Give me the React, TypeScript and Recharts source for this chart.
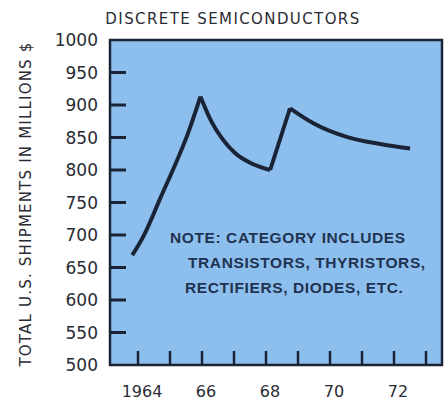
import { Line, LineChart, ReferenceArea, XAxis, YAxis } from 'recharts';

// segments (year, millions $)
const rise1Years = [1963.82, 1964.22, 1964.63, 1965.0, 1965.52, 1965.95];
const rise1Values = [669, 703, 749, 790, 851, 913];
const fall1Years = [1965.95, 1966.3, 1966.62, 1967.03, 1967.55, 1968.13];
const fall1Values = [913, 874, 849, 826, 810, 800];
const rise2Years = [1968.13, 1968.75];
const rise2Values = [800, 895];
const fall2Years = [1968.75, 1969.48, 1970.52, 1971.56, 1972.5];
const fall2Values = [895, 872, 851, 840, 833];

const yearTicks = [1964, 1965, 1966, 1967, 1968, 1969, 1970, 1971, 1972, 1973];
const yearLabels: Record<number, string> = { 1964: '1964', 1966: '66', 1968: '68', 1970: '70', 1972: '72' };
const valueTicks = [500, 550, 600, 650, 700, 750, 800, 850, 900, 950, 1000];

const title = 'DISCRETE SEMICONDUCTORS';
const yTitle = 'TOTAL U.S. SHIPMENTS IN MILLIONS $';
const noteLines = ['NOTE:  CATEGORY INCLUDES', 'TRANSISTORS, THYRISTORS,', 'RECTIFIERS, DIODES, ETC.'];

const FONT = '"DejaVu Sans", sans-serif';
const NOTE_FONT = '"Liberation Sans", Arial, sans-serif';
const INK = '#2a2b33';
const LINE = '#1b2436';

const toRows = (xs: number[], ys: number[]) => xs.map((year, i) => ({ year, value: ys[i] }));

function YTick({ x, y, payload }: any) {
  const v = payload.value;
  return (
    <g>
      <text x={x - 12} y={y} dy={6} textAnchor='end' fontSize={17} fontFamily={FONT} fill={INK}>
        {v}
      </text>
      {v > 500 && v < 1000 && <line x1={x} x2={x + 16} y1={y} y2={y} stroke={LINE} strokeWidth={3} />}
    </g>
  );
}

function XTick({ x, y, payload }: any) {
  const v = payload.value;
  return (
    <g>
      <line x1={x} x2={x} y1={y} y2={y - 14} stroke={LINE} strokeWidth={2.5} />
      {yearLabels[v] && (
        <text x={x + 4} y={y + 32} textAnchor='middle' fontSize={16} fontFamily={FONT} fill={INK}>
          {yearLabels[v]}
        </text>
      )}
    </g>
  );
}

export default function App() {
  return (
    <div style={{ position: 'absolute', left: 0, top: 0, width: 448, height: 400 }}>
      <LineChart width={448} height={400} margin={{ top: 40, right: 6, bottom: 0, left: 0 }}>
        <ReferenceArea
          x1={1963.125}
          x2={1973.5}
          y1={500}
          y2={1000}
          fill='#8DBFEE'
          fillOpacity={1}
          stroke={LINE}
          strokeWidth={2.5}
        />
        <XAxis
          type='number'
          dataKey='year'
          domain={[1963.125, 1973.5]}
          allowDataOverflow
          ticks={yearTicks}
          interval={0}
          height={35}
          axisLine={false}
          tickLine={false}
          tickSize={0}
          tickMargin={0}
          tick={<XTick />}
        />
        <YAxis
          type='number'
          domain={[500, 1000]}
          allowDataOverflow
          ticks={valueTicks}
          interval={0}
          width={110}
          axisLine={false}
          tickLine={false}
          tickSize={0}
          tickMargin={0}
          tick={<YTick />}
        />
        <Line data={toRows(rise1Years, rise1Values)} dataKey='value' type='natural' stroke={LINE} strokeWidth={4} dot={false} isAnimationActive={false} />
        <Line data={toRows(fall1Years, fall1Values)} dataKey='value' type='monotone' stroke={LINE} strokeWidth={4} dot={false} isAnimationActive={false} />
        <Line data={toRows(rise2Years, rise2Values)} dataKey='value' type='linear' stroke={LINE} strokeWidth={4} dot={false} isAnimationActive={false} />
        <Line data={toRows(fall2Years, fall2Values)} dataKey='value' type='monotone' stroke={LINE} strokeWidth={4} dot={false} isAnimationActive={false} />
      </LineChart>
      <svg width={448} height={400} style={{ position: 'absolute', left: 0, top: 0, pointerEvents: 'none' }}>
        <text x={233} y={24} textAnchor='middle' fontSize={15} letterSpacing={1.4} fontFamily={FONT} fill={INK}>
          {title}
        </text>
        <text
          transform='translate(31,204) rotate(-90)'
          textAnchor='middle'
          fontSize={15}
          letterSpacing={1.2}
          fontFamily={FONT}
          fill={INK}
        >
          {yTitle}
        </text>
        <text fontSize={15.5} fontWeight='bold' letterSpacing={0.6} fontFamily={NOTE_FONT} fill='#1f3350'>
          <tspan x={170} y={243}>{noteLines[0]}</tspan>
          <tspan x={188} y={268}>{noteLines[1]}</tspan>
          <tspan x={185} y={293}>{noteLines[2]}</tspan>
        </text>
      </svg>
    </div>
  );
}
